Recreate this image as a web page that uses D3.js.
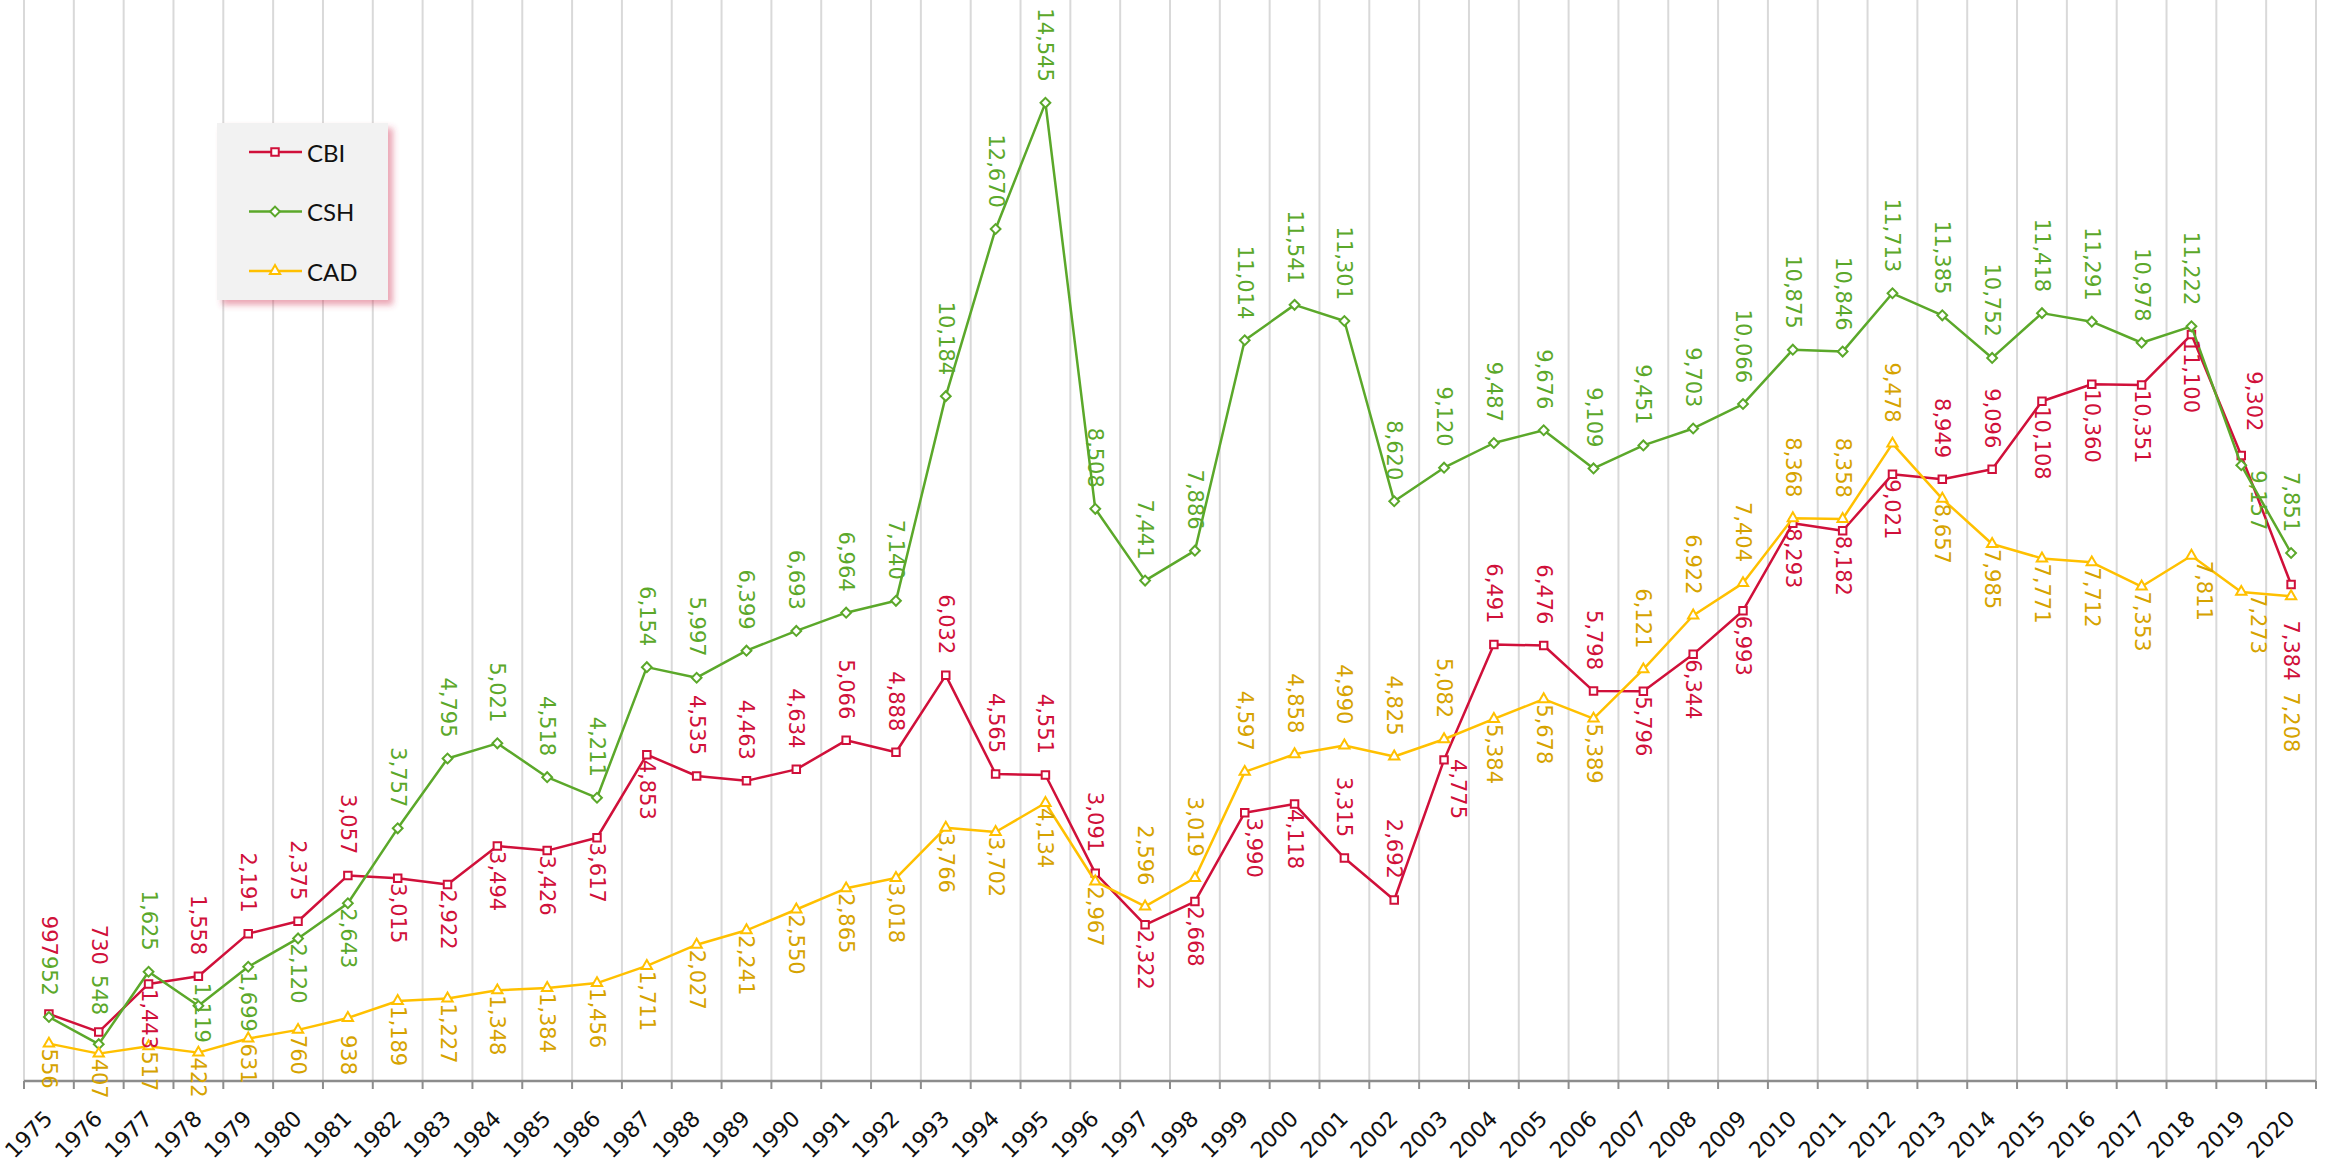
<!DOCTYPE html>
<html lang="en">
    <head>
        <meta charset="utf-8">
        <title>CBI / CSH / CAD 1975-2020</title>
        <script type="text/javascript" src="https://d3js.org/d3.v7.min.js"></script>
        <style type="text/css">
            body { margin: 0; background: #ffffff; }
            svg { display: block; }
        </style>
    </head>
    <body>
        <script type="text/javascript">

        const width = 2326;
        const height = 1167;

        //Data
        const years = d3.range(1975, 2021);

        const cbi = [997, 730, 1443, 1558, 2191, 2375, 3057, 3015, 2922, 3494,
                     3426, 3617, 4853, 4535, 4463, 4634, 5066, 4888, 6032, 4565,
                     4551, 3091, 2322, 2668, 3990, 4118, 3315, 2692, 4775, 6491,
                     6476, 5798, 5796, 6344, 6993, 8293, 8182, 9021, 8949, 9096,
                     10108, 10360, 10351, 11100, 9302, 7384];

        const csh = [952, 548, 1625, 1119, 1699, 2120, 2643, 3757, 4795, 5021,
                     4518, 4211, 6154, 5997, 6399, 6693, 6964, 7140, 10184, 12670,
                     14545, 8508, 7441, 7886, 11014, 11541, 11301, 8620, 9120, 9487,
                     9676, 9109, 9451, 9703, 10066, 10875, 10846, 11713, 11385, 10752,
                     11418, 11291, 10978, 11222, 9157, 7851];

        const cad = [556, 407, 517, 422, 631, 760, 938, 1189, 1227, 1348,
                     1384, 1456, 1711, 2027, 2241, 2550, 2865, 3018, 3766, 3702,
                     4134, 2967, 2596, 3019, 4597, 4858, 4990, 4825, 5082, 5384,
                     5678, 5389, 6121, 6922, 7404, 8368, 8358, 9478, 8657, 7985,
                     7771, 7712, 7353, 7811, 7273, 7208];

        // label side per point: a = above, b = below
        const cbiSide = "aabaaaabbbbbbaaaaaaaaabbbbaabaaabbbbbbaabbbbab".split("");
        const cshSide = "aaabbbbaaaaaaaaaaaaaaaaaaaaaaaaaaaaaaaaaaaaaba".split("");
        const cadSide = "bbbbbbbbbbbbbbbbbbbbbbaaaaaaabbbaaaaaabbbbbbbb".split("");

        // hand-moved labels in the original
        const nudge = {
            "CBI-1975": [0, -37], "CBI-1976": [0, -46], "CSH-1976": [0, -8],
            "CSH-1978": [4, -28], "CBI-1999": [9, 0], "CBI-2003": [14, -6],
            "CBI-2019": [13, -3], "CSH-2019": [17, 0], "CAD-2018": [13, 0],
            "CAD-2019": [17, -3], "CBI-2020": [0, 31], "CAD-2020": [0, 91],
            "CAD-1981": [0, 12]
        };

        const series = [
            {name: "CBI", values: cbi, side: cbiSide, color: "#d0103a", text: "#d0103a", symbol: "square"},
            {name: "CSH", values: csh, side: cshSide, color: "#5ba82a", text: "#5ba82a", symbol: "diamond"},
            {name: "CAD", values: cad, side: cadSide, color: "#ffc000", text: "#d6a300", symbol: "triangle"}
        ];

        //Scales
        const xScale = d3.scaleBand()
                        .domain(years)
                        .range([24, 2316])
                        .padding(0);

        const yScale = d3.scaleLinear()
                        .domain([0, 16000])
                        .range([1081, 5]);

        const cx = d => xScale(d) + xScale.bandwidth() / 2;
        const fmt = d3.format(",");

        function markerPath(kind) {
            if (kind === "square") return d3.symbol(d3.symbolSquare, 56)();
            if (kind === "diamond") return d3.symbol(d3.symbolSquare, 48)();
            return d3.symbol(d3.symbolTriangle, 46)();
        }

        //SVG
        const svg = d3.select("body")
                    .append("svg")
                    .attr("width", width)
                    .attr("height", height);

        const defs = svg.append("defs");
        const shadow = defs.append("filter")
            .attr("id", "legendShadow")
            .attr("x", "-20%").attr("y", "-20%")
            .attr("width", "150%").attr("height", "150%");
        shadow.append("feDropShadow")
            .attr("dx", 5).attr("dy", 5)
            .attr("stdDeviation", 3)
            .attr("flood-color", "#d23c5a")
            .attr("flood-opacity", 0.45);

        //Gridlines at category edges
        const edges = years.map(d => xScale(d)).concat([xScale.range()[1]]);

        svg.append("g")
            .selectAll("line")
            .data(edges)
            .enter()
            .append("line")
            .attr("x1", d => d).attr("x2", d => d)
            .attr("y1", 0).attr("y2", yScale(0))
            .attr("stroke", "#d9d9d9")
            .attr("stroke-width", 2);

        //Axis
        const bottomAxis = d3.axisBottom(xScale)
                            .tickSize(0)
                            .tickSizeOuter(0);

        const axisG = svg.append("g")
            .attr("transform", "translate(0," + yScale(0) + ")")
            .call(bottomAxis);

        axisG.select(".domain").remove();
        axisG.selectAll("text")
            .attr("x", 0).attr("y", 0).attr("dy", 0)
            .attr("transform", "translate(5,39) rotate(-45)")
            .style("text-anchor", "end")
            .attr("font-family", "'DejaVu Sans', Verdana, sans-serif")
            .attr("font-size", 22)
            .attr("fill", "#111111");

        axisG.append("line")
            .attr("x1", xScale.range()[0]).attr("x2", xScale.range()[1])
            .attr("y1", 0).attr("y2", 0)
            .attr("stroke", "#8c8c8c")
            .attr("stroke-width", 2.5);

        axisG.selectAll("line.edge")
            .data(edges)
            .enter()
            .append("line")
            .attr("class", "edge")
            .attr("x1", d => d).attr("x2", d => d)
            .attr("y1", 0).attr("y2", 8)
            .attr("stroke", "#8c8c8c")
            .attr("stroke-width", 2);

        //Lines and markers
        const line = d3.line()
            .x((d, i) => cx(years[i]))
            .y(d => yScale(d));

        series.forEach(s => {
            svg.append("path")
                .datum(s.values)
                .attr("d", line)
                .attr("fill", "none")
                .attr("stroke", s.color)
                .attr("stroke-width", 2.5)
                .attr("stroke-linejoin", "round");

            svg.append("g")
                .selectAll("path")
                .data(s.values)
                .enter()
                .append("path")
                .attr("d", markerPath(s.symbol))
                .attr("transform", (d, i) => "translate(" + cx(years[i]) + "," + yScale(d) + ")"
                      + (s.symbol === "diamond" ? " rotate(45)" : ""))
                .attr("fill", "#ffffff")
                .attr("stroke", s.color)
                .attr("stroke-width", 2);
        });

        //Data labels
        series.forEach(s => {
            svg.append("g")
                .selectAll("text")
                .data(s.values)
                .enter()
                .append("text")
                .attr("transform", (d, i) => {
                    const n = nudge[s.name + "-" + years[i]] || [0, 0];
                    const up = s.side[i] === "a";
                    const ty = yScale(d) + (up ? -21 : 5) + n[1];
                    return "translate(" + (cx(years[i]) + n[0]) + "," + ty + ") rotate(90)";
                })
                .attr("text-anchor", (d, i) => s.side[i] === "a" ? "end" : "start")
                .attr("dominant-baseline", "central")
                .attr("font-family", "'DejaVu Sans', Verdana, sans-serif")
                .attr("font-size", 21)
                .attr("fill", s.text)
                .text(d => fmt(d));
        });

        //Legend
        const legend = svg.append("g");
        legend.append("rect")
            .attr("x", 217).attr("y", 123)
            .attr("width", 171).attr("height", 177)
            .attr("fill", "#f2f2f2")
            .attr("filter", "url(#legendShadow)");

        const rows = legend.selectAll("g.row")
            .data(series)
            .enter()
            .append("g")
            .attr("class", "row")
            .attr("transform", (d, i) => "translate(0," + (152 + i * 59.5) + ")");

        rows.append("line")
            .attr("x1", 249).attr("x2", 302)
            .attr("stroke", d => d.color)
            .attr("stroke-width", 2.5);

        rows.append("path")
            .attr("d", d => markerPath(d.symbol))
            .attr("transform", d => "translate(275,0)" + (d.symbol === "diamond" ? " rotate(45)" : ""))
            .attr("fill", "#ffffff")
            .attr("stroke", d => d.color)
            .attr("stroke-width", 2);

        rows.append("text")
            .attr("x", 307)
            .attr("dominant-baseline", "central")
            .attr("font-family", "Lato, 'Open Sans', sans-serif")
            .attr("font-size", 24)
            .attr("fill", "#111111")
            .text(d => d.name);

        </script>
    </body>
</html>
